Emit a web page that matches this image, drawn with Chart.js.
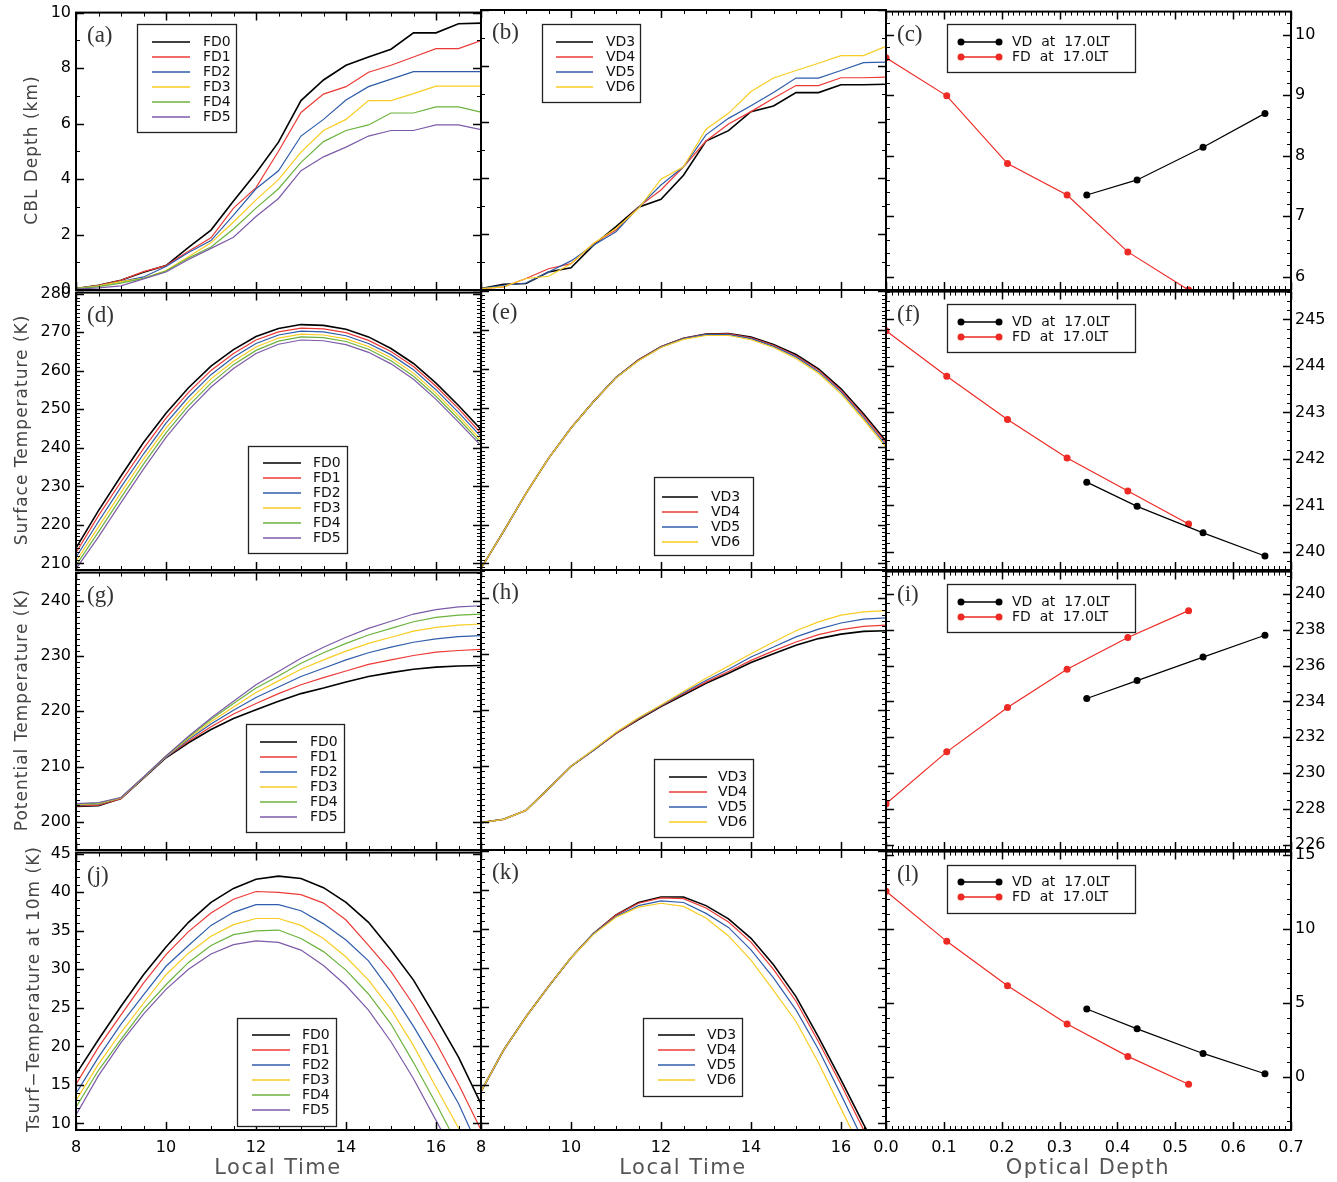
<!DOCTYPE html>
<html>
<head>
<meta charset="utf-8">
<script src="https://cdn.jsdelivr.net/npm/chart.js@4.4.0/dist/chart.umd.min.js"></script>
<style>
body{margin:0;background:#fff;width:1337px;height:1182px;position:relative;overflow:hidden}
canvas{position:absolute}
.t{position:absolute;font-family:"DejaVu Sans";color:#444;white-space:nowrap;line-height:1;z-index:2}
.v{font-size:17px;letter-spacing:1px;transform:translate(-50%,-50%) rotate(-90deg)}
.h{font-size:21px;letter-spacing:1.5px;color:#555;transform:translate(-50%,-50%)}
</style>
</head>
<body>
<div class="t v" style="left:31px;top:150px">CBL Depth (km)</div>
<div class="t v" style="left:21px;top:430px">Surface Temperature (K)</div>
<div class="t v" style="left:21px;top:710px">Potential Temperature (K)</div>
<div class="t v" style="left:33px;top:989px">Tsurf−Temperature at 10m (K)</div>
<div class="t h" style="left:278px;top:1167px">Local Time</div>
<div class="t h" style="left:683px;top:1167px">Local Time</div>
<div class="t h" style="left:1088px;top:1167px">Optical Depth</div>
<script>
// local time of the model output
var hours = [8,8.5,9,9.5,10,10.5,11,11.5,12,12.5,13,13.5,14,14.5,15,15.5,16,16.5,17];

var fdLabels = ['FD0','FD1','FD2','FD3','FD4','FD5'];
var vdLabels = ['VD3','VD4','VD5','VD6'];
var fdColors = ['#000000','#ec3a36','#2f5dab','#f8cd23','#6cb33e','#7c5ba8'];
var vdColors = ['#000000','#ec3a36','#2f5dab','#f8cd23'];

// (a) CBL depth, FD runs
var cblFD = [
  [0.05,0.17,0.35,0.64,0.88,1.54,2.16,3.21,4.22,5.33,6.83,7.57,8.10,8.40,8.68,9.27,9.27,9.60,9.62],
  [0.05,0.17,0.35,0.66,0.88,1.40,1.88,2.95,3.69,5.00,6.40,7.06,7.33,7.85,8.10,8.40,8.70,8.70,8.99],
  [0.05,0.15,0.30,0.47,0.85,1.35,1.78,2.70,3.65,4.30,5.55,6.15,6.85,7.33,7.60,7.87,7.87,7.87,7.87],
  [0.05,0.15,0.30,0.42,0.70,1.20,1.70,2.45,3.25,3.98,4.97,5.75,6.15,6.83,6.83,7.08,7.35,7.35,7.35],
  [0.05,0.12,0.25,0.42,0.68,1.15,1.55,2.20,2.95,3.65,4.60,5.35,5.75,5.95,6.38,6.38,6.60,6.60,6.41],
  [0.03,0.08,0.15,0.40,0.65,1.10,1.50,1.90,2.65,3.30,4.30,4.80,5.15,5.55,5.75,5.75,5.95,5.95,5.78]
];
// (b) CBL depth, VD runs
var cblVD = [
  [0.05,0.20,0.23,0.64,0.79,1.60,2.26,2.96,3.24,4.10,5.32,5.69,6.37,6.57,7.05,7.05,7.33,7.33,7.35],
  [0.05,0.11,0.41,0.76,0.94,1.66,2.14,2.97,3.57,4.40,5.32,5.93,6.37,6.85,7.30,7.30,7.58,7.58,7.60],
  [0.05,0.17,0.25,0.64,1.04,1.60,2.08,2.95,3.75,4.40,5.54,6.13,6.58,7.05,7.57,7.57,7.84,8.12,8.14],
  [0.05,0.11,0.41,0.49,0.94,1.66,2.20,2.91,3.96,4.40,5.74,6.31,7.09,7.57,7.84,8.10,8.37,8.37,8.70]
];
// (d) surface temperature, FD
var tsFD = [
  [214.0,223.7,232.7,241.4,249.0,255.6,261.2,265.5,268.9,271.0,272.0,271.8,270.8,268.8,265.8,261.9,256.8,251.0,244.8],
  [212.8,222.4,231.2,239.8,247.7,254.4,260.1,264.5,268.0,270.1,271.1,270.9,269.9,267.9,265.0,261.1,256.0,250.2,243.8],
  [211.6,220.9,229.8,238.4,246.4,253.2,259.0,263.5,267.1,269.3,270.3,270.1,269.1,267.1,264.2,260.3,255.1,249.2,242.9],
  [210.5,219.5,228.4,237.1,245.1,252.0,257.9,262.5,266.2,268.5,269.5,269.3,268.3,266.3,263.4,259.4,254.2,248.3,242.0],
  [209.5,218.2,227.1,235.8,243.9,250.9,256.8,261.6,265.3,267.7,268.8,268.6,267.6,265.6,262.6,258.6,253.4,247.5,241.3],
  [208.6,216.9,225.8,234.5,242.7,249.8,255.8,260.6,264.5,266.9,268.0,267.8,266.8,264.8,261.8,257.8,252.6,246.7,240.6]
];
// (e) surface temperature, VD
var tsVD = [
  [208.7,218.2,228.0,237.0,244.8,251.6,257.8,262.3,265.7,267.9,269.0,269.1,268.2,266.3,263.7,260.0,254.9,248.5,241.5],
  [208.7,218.2,228.0,237.0,244.8,251.6,257.8,262.3,265.7,267.9,268.9,269.0,268.0,266.1,263.4,259.7,254.5,248.0,241.0],
  [208.7,218.2,228.0,237.0,244.8,251.6,257.8,262.2,265.6,267.8,268.8,268.8,267.8,265.8,263.1,259.3,254.1,247.5,240.4],
  [208.7,218.2,228.0,237.0,244.8,251.6,257.7,262.1,265.5,267.6,268.6,268.6,267.5,265.5,262.7,258.9,253.6,247.0,239.9]
];
// (g) potential temperature, FD
var ptFD = [
  [202.8,202.9,204.2,207.9,211.6,214.3,216.7,218.7,220.3,221.8,223.2,224.2,225.3,226.3,227.0,227.6,228.0,228.2,228.3],
  [202.9,203.0,204.2,208.0,211.7,214.6,217.2,219.5,221.4,223.2,224.8,226.1,227.3,228.5,229.3,230.1,230.7,231.0,231.2],
  [203.0,203.2,204.3,208.0,211.7,214.9,217.7,220.2,222.5,224.4,226.3,227.8,229.3,230.6,231.6,232.5,233.1,233.5,233.7],
  [203.1,203.3,204.3,208.0,211.8,215.1,218.1,220.8,223.4,225.5,227.6,229.3,230.9,232.3,233.4,234.5,235.2,235.6,235.8],
  [203.2,203.4,204.4,208.1,211.9,215.3,218.5,221.4,224.2,226.4,228.7,230.6,232.3,233.8,235.0,236.2,237.0,237.4,237.6],
  [203.3,203.5,204.4,208.1,211.9,215.5,218.8,221.8,224.8,227.2,229.6,231.6,233.4,235.0,236.3,237.6,238.4,238.9,239.1]
];
// (h) potential temperature, VD
var ptVD = [
  [199.8,200.4,202.0,205.9,209.9,212.8,215.8,218.3,220.6,222.7,224.8,226.6,228.5,230.1,231.6,232.8,233.6,234.1,234.2],
  [199.8,200.4,202.0,205.9,209.9,212.8,215.8,218.4,220.7,222.9,225.0,226.9,228.9,230.6,232.2,233.5,234.4,235.0,235.2],
  [199.8,200.4,202.0,205.9,209.9,212.8,215.9,218.5,220.8,223.1,225.3,227.3,229.5,231.3,233.1,234.5,235.6,236.3,236.5],
  [199.8,200.4,202.0,205.9,209.9,212.9,216.0,218.6,220.9,223.3,225.7,227.9,230.1,232.2,234.2,235.8,237.0,237.6,237.8]
];
// (j) Tsurf - T(10m), FD
var dtFD = [
  [16.4,20.9,25.2,29.3,32.9,36.1,38.7,40.5,41.7,42.1,41.8,40.6,38.7,36.1,32.5,28.6,23.7,18.6,12.54],
  [15.1,19.9,24.1,28.2,31.9,34.9,37.3,39.1,40.1,40.0,39.7,38.6,36.4,33.1,29.7,25.4,20.5,15.1,9.16],
  [13.9,18.6,22.9,26.7,30.4,33.1,35.7,37.4,38.4,38.4,37.6,35.9,33.8,31.1,27.1,22.6,17.7,12.6,6.16],
  [13.0,17.7,21.8,25.6,29.3,32.1,34.3,35.8,36.6,36.6,35.7,34.0,31.6,28.6,24.8,20.1,14.7,9.4,3.58],
  [12.1,16.9,20.9,24.8,28.0,30.9,33.1,34.5,35.0,35.1,34.0,32.3,29.9,26.8,22.9,17.9,12.6,7.0,1.39],
  [11.1,16.2,20.5,24.2,27.4,30.0,32.0,33.2,33.7,33.5,32.5,30.5,27.9,24.7,20.6,15.8,10.4,5.0,-0.49]
];
// (k) Tsurf - T(10m), VD
var dtVD = [
  [14.1,19.4,23.7,27.6,31.3,34.4,36.8,38.4,39.1,39.1,38.0,36.3,33.8,30.4,26.3,21.1,15.6,9.9,4.59],
  [14.1,19.4,23.7,27.6,31.3,34.4,36.8,38.3,39.0,38.9,37.7,35.9,33.3,29.8,25.7,20.5,15.0,9.2,3.25],
  [14.1,19.4,23.7,27.6,31.3,34.4,36.6,38.0,38.6,38.4,37.0,35.2,32.3,28.7,24.6,19.5,13.7,7.7,1.59],
  [14.1,19.4,23.7,27.6,31.3,34.3,36.5,37.8,38.3,37.9,36.4,34.1,31.0,27.1,23.1,17.8,11.9,6.0,0.22]
];

// right column: values at 17.0 LT against optical depth
var odFD = [0, 0.105, 0.21, 0.313, 0.418, 0.523];
var odVD = [0.347, 0.434, 0.548, 0.655];
var cblFD17 = [9.62, 8.99, 7.87, 7.35, 6.41, 5.78];
var cblVD17 = [7.35, 7.60, 8.14, 8.70];
var tsFD17 = [244.76, 243.78, 242.85, 242.02, 241.31, 240.60];
var tsVD17 = [241.50, 240.98, 240.41, 239.91];
var ptFD17 = [228.29, 231.19, 233.66, 235.79, 237.56, 239.06];
var ptVD17 = [234.16, 235.16, 236.47, 237.69];
var dtFD17 = [12.54, 9.16, 6.16, 3.58, 1.39, -0.49];
var dtVD17 = [4.59, 3.25, 1.59, 0.22];

var X0 = [76, 481, 886], Y0 = [10, 290, 570, 850], PW = 405, PH = 280;
var ML = 60, MR = 60, MT = 12, MB = 45;

function pts(xs, ys) {
    return ys.map(function (v, i) { return {x: xs[i], y: v}; });
}
function timeSets(rows, labels, colors) {
    return rows.map(function (r, i) {
        return {label: labels[i], data: pts(hours, r), borderColor: colors[i],
                borderWidth: i == 0 ? 1.6 : 1.2, pointRadius: 0, order: -i};
    });
}
function odSets(vd, fd) {
    return [
        {label: 'VD  at  17.0LT', data: pts(odVD, vd), borderColor: '#000', backgroundColor: '#000',
         borderWidth: 1.2, pointRadius: 3.5, pointBorderWidth: 0},
        {label: 'FD  at  17.0LT', data: pts(odFD, fd), borderColor: '#ee2a24', backgroundColor: '#ee2a24',
         borderWidth: 1.2, pointRadius: 3.5, pointBorderWidth: 0}
    ];
}

var fdLeg = {w: 99, h: 108, dy: 15, n: 6}, vdLeg = {w: 99, h: 78, dy: 15};
var panels = [
    {tag:'(a)', col:0, row:0, y:[0,10], ys:2, ym:1, sets: timeSets(cblFD, fdLabels, fdColors),
     leg:{x:137, y:24, w:99, h:108, lx:[152,190], tx:203, ty:42}},
    {tag:'(b)', col:1, row:0, y:[0,10], ys:2, ym:1, sets: timeSets(cblVD, vdLabels, vdColors),
     leg:{x:542, y:24, w:98, h:78, lx:[556,593], tx:606, ty:42}},
    {tag:'(c)', col:2, row:0, y:[5.78,10.383], ys:1, ym:0.2, sets: odSets(cblVD17, cblFD17),
     leg:{x:947, y:24, w:188, h:48, lx:[961,999], tx:1012, ty:42, dots:true}},
    {tag:'(d)', col:0, row:1, y:[208.3,280.3], ys:10, ym:1, sets: timeSets(tsFD, fdLabels, fdColors),
     leg:{x:248, y:446, w:99, h:107, lx:[263,301], tx:313, ty:463}},
    {tag:'(e)', col:1, row:1, y:[208.3,280.3], ys:10, ym:1, sets: timeSets(tsVD, vdLabels, vdColors),
     leg:{x:654, y:477, w:99, h:78, lx:[662,698], tx:711, ty:497}},
    {tag:'(f)', col:2, row:1, y:[239.61,245.6], ys:1, ym:0.2, sets: odSets(tsVD17, tsFD17),
     leg:{x:947, y:304, w:188, h:48, lx:[961,999], tx:1012, ty:322, dots:true}},
    {tag:'(g)', col:0, row:2, y:[194.9,245.1], ys:10, ym:1, sets: timeSets(ptFD, fdLabels, fdColors),
     leg:{x:246, y:724, w:98, h:108, lx:[260,297], tx:310, ty:742}},
    {tag:'(h)', col:1, row:2, y:[194.9,245.1], ys:10, ym:1, sets: timeSets(ptVD, vdLabels, vdColors),
     leg:{x:654, y:759, w:99, h:78, lx:[669,707], tx:718, ty:777}},
    {tag:'(i)', col:2, row:2, y:[225.72,241.235], ys:2, ym:0.5, sets: odSets(ptVD17, ptFD17),
     leg:{x:947, y:584, w:188, h:48, lx:[961,999], tx:1012, ty:602, dots:true}},
    {tag:'(j)', col:0, row:3, y:[9.15,45.15], ys:5, ym:1, sets: timeSets(dtFD, fdLabels, fdColors),
     leg:{x:237, y:1018, w:99, h:108, lx:[252,290], tx:302, ty:1035}},
    {tag:'(k)', col:1, row:3, y:[9.15,45.15], ys:5, ym:1, sets: timeSets(dtVD, vdLabels, vdColors),
     leg:{x:643, y:1018, w:99, h:78, lx:[658,695], tx:707, ty:1035}},
    {tag:'(l)', col:2, row:3, y:[-3.58,15.22], ys:5, ym:1, sets: odSets(dtVD17, dtFD17),
     leg:{x:947, y:865, w:188, h:48, lx:[961,999], tx:1012, ty:882, dots:true}}
];

// box, inward ticks, panel tag and legend
var framePlugin = {
    id: 'frame',
    afterDraw: function (chart) {
        var o = chart.options.plugins.frame;
        var ctx = chart.ctx, a = chart.chartArea;
        var sx = chart.scales.x, sy = chart.scales.y;
        ctx.save();
        ctx.strokeStyle = '#000';
        function marks(scale, step, len, lw) {
            ctx.lineWidth = lw;
            ctx.beginPath();
            var i0 = Math.ceil(scale.min / step - 1e-6), i1 = Math.floor(scale.max / step + 1e-6);
            for (var i = i0; i <= i1; i++) {
                var p = Math.round(scale.getPixelForValue(i * step)) + 0.5;
                if (scale === sx) {
                    ctx.moveTo(p, a.bottom); ctx.lineTo(p, a.bottom - len);
                    ctx.moveTo(p, a.top); ctx.lineTo(p, a.top + len);
                } else {
                    ctx.moveTo(a.left, p); ctx.lineTo(a.left + len, p);
                    ctx.moveTo(a.right, p); ctx.lineTo(a.right - len, p);
                }
            }
            ctx.stroke();
        }
        marks(sx, o.xm, 4, 1);
        marks(sx, o.xs, 8, 1.5);
        marks(sy, o.ym, 4, 1);
        marks(sy, o.ys, 8, 1.5);
        ctx.lineWidth = 2;
        ctx.strokeRect(a.left, a.top, a.width, a.height);

        ctx.fillStyle = '#333';
        ctx.font = '23px "Liberation Serif"';
        ctx.textBaseline = 'middle';
        ctx.textAlign = 'left';
        ctx.fillText(o.tag, a.left + 11, a.top + 23);

        var L = o.leg, ox = o.ox, oy = o.oy;
        ctx.fillStyle = '#fff';
        ctx.fillRect(L.x - ox, L.y - oy, L.w, L.h);
        ctx.lineWidth = 1.3;
        ctx.strokeStyle = '#222';
        ctx.strokeRect(L.x - ox + 0.5, L.y - oy + 0.5, L.w, L.h);
        ctx.font = '14px "DejaVu Sans"';
        chart.data.datasets.forEach(function (d, i) {
            var yy = L.ty + i * 15 - oy;
            ctx.strokeStyle = d.borderColor;
            ctx.lineWidth = L.dots ? 1.6 : 1.4;
            ctx.beginPath();
            ctx.moveTo(L.lx[0] - ox, yy); ctx.lineTo(L.lx[1] - ox, yy);
            ctx.stroke();
            if (L.dots) {
                ctx.fillStyle = d.borderColor;
                [L.lx[0], L.lx[1]].forEach(function (px) {
                    ctx.beginPath(); ctx.arc(px - ox, yy, 3.5, 0, Math.PI * 2); ctx.fill();
                });
            }
            ctx.fillStyle = '#111';
            ctx.fillText(d.label, L.tx - ox, yy);
        });
        ctx.restore();
    }
};

var tickFont = {family: 'DejaVu Sans', size: 16};

panels.forEach(function (p) {
    var cv = document.createElement('canvas');
    cv.width = PW + ML + MR;
    cv.height = PH + MT + MB;
    var ox = X0[p.col] - ML, oy = Y0[p.row] - MT;
    cv.style.left = ox + 'px';
    cv.style.top = oy + 'px';
    document.body.appendChild(cv);

    var right = p.col == 2;
    var xr = right ? [0, 0.7] : [8, 17];
    var xs = right ? 0.1 : 2, xm = right ? 0.01 : 0.5;

    new Chart(cv, {
        type: 'line',
        data: {datasets: p.sets},
        options: {
            responsive: false,
            animation: false,
            events: [],
            layout: {padding: {left: right ? ML : 0, right: right ? 0 : MR, top: MT, bottom: 0}},
            plugins: {
                legend: {display: false},
                tooltip: {enabled: false},
                frame: {tag: p.tag, leg: p.leg, ox: ox, oy: oy, xs: xs, xm: xm, ys: p.ys, ym: p.ym}
            },
            scales: {
                x: {
                    type: 'linear', min: xr[0], max: xr[1],
                    afterFit: function (s) { s.height = MB; },
                    grid: {display: false, drawTicks: false},
                    border: {display: false},
                    ticks: {
                        display: p.row == 3, stepSize: xs, includeBounds: false,
                        padding: 8, color: '#000', font: tickFont, maxRotation: 0, autoSkip: false,
                        callback: function (v) { return right ? v.toFixed(1) : String(v); }
                    }
                },
                y: {
                    type: 'linear', position: right ? 'right' : 'left',
                    min: p.y[0], max: p.y[1],
                    afterFit: function (s) { s.width = right ? MR : ML; },
                    grid: {display: false, drawTicks: false},
                    border: {display: false},
                    ticks: {
                        display: p.col != 1, stepSize: p.ys, includeBounds: false,
                        padding: right ? 4 : 5, color: '#000', font: tickFont, autoSkip: false,
                        callback: function (v) { return String(v); }
                    }
                }
            }
        },
        plugins: [framePlugin]
    });
});
</script>
</body>
</html>
